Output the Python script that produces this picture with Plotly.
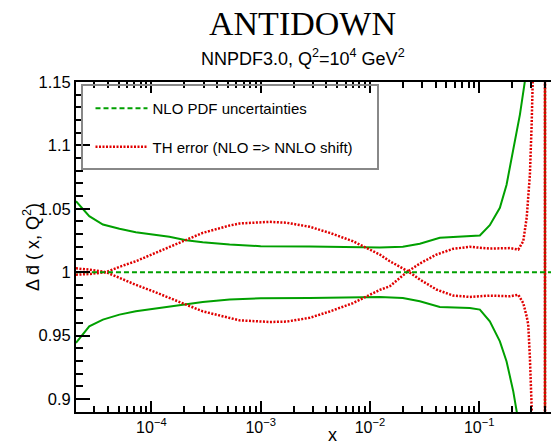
import plotly.graph_objects as go

# ---------------- data ----------------
X_GREEN = [2.04e-5, 2.7e-5, 3.6e-5, 5.1e-5, 7.2e-5, 1.03e-4, 1.46e-4, 2.08e-4,
           2.95e-4, 5.2e-4, 1.0e-3, 2.8e-3, 7.0e-3, 1.23e-2, 2.0e-2, 2.86e-2,
           4.36e-2, 6.2e-2, 8.2e-2, 0.1014, 0.125, 0.1546, 0.178, 0.205, 0.236,
           0.262, 0.30, 0.40, 0.40]
PDF_UP = [1.056, 1.0442, 1.0376, 1.0342, 1.0315, 1.0297, 1.0279, 1.0252,
          1.0236, 1.0218, 1.0205, 1.0202, 1.0198, 1.0194, 1.0200, 1.0224,
          1.0271, 1.0279, 1.0283, 1.0290, 1.0370, 1.0508, 1.069, 1.0955, 1.1245,
          1.1508, 1.30, 3.0, -1.0]
PDF_DN = [0.9442, 0.9573, 0.9626, 0.9665, 0.9691, 0.9710, 0.9731, 0.9750,
          0.9765, 0.9784, 0.9794, 0.9797, 0.9802, 0.9805, 0.9797, 0.9770,
          0.9726, 0.9723, 0.9718, 0.9705, 0.9612, 0.9454, 0.9296, 0.906, 0.875,
          0.84, 0.70, -1.0, 3.0]

X_TH = [2.04e-5, 2.7e-5, 3.85e-5, 5.1e-5, 7.2e-5, 1.03e-4, 1.46e-4, 2.08e-4,
        2.95e-4, 5.2e-4, 6.4e-4, 1.21e-3, 1.72e-3, 2.81e-3, 4.28e-3, 7.0e-3,
        9.29e-3, 1.23e-2, 1.52e-2, 2.23e-2, 2.86e-2, 4.06e-2, 5.77e-2, 8.2e-2,
        0.125, 0.191, 0.228, 0.253, 0.272, 0.281, 0.291, 0.302, 0.312, 0.33,
        0.40, 0.40]
TH_A = [0.998, 0.9985, 1.000, 1.0042, 1.0086, 1.0144, 1.0200, 1.0258,
        1.0310, 1.0368, 1.0384, 1.0397, 1.0390, 1.0358, 1.0310, 1.0244,
        1.0192, 1.0139, 1.0086, 1.0007, 0.9942, 0.9863, 0.9815, 0.9805,
        0.9815, 0.9810, 0.9822, 0.9756, 0.965, 0.9586, 0.9325, 0.906, 0.885,
        0.80, -1.0, 3.0]
TH_B = [1.003, 1.002, 1.000, 0.9955, 0.9900, 0.9850, 0.9797, 0.9744,
        0.9691, 0.9639, 0.9620, 0.9607, 0.9610, 0.9640, 0.9690, 0.9756,
        0.9810, 0.9860, 0.9889, 1.0007, 1.0068, 1.0139, 1.0184, 1.0200,
        1.0186, 1.0190, 1.0178, 1.0244, 1.043, 1.058, 1.077, 1.1166, 1.148,
        1.25, 3.0, -1.0]

X_CENTRAL = [2.04e-5, 0.454]
CENTRAL = [1.0, 1.0]

Y_TICKS = [0.9, 0.95, 1.0, 1.05, 1.1, 1.15]
Y_TICK_TEXT = ["0.9", "0.95", "1", "1.05", "1.1", "1.15"]
X_MAJOR = [1e-4, 1e-3, 1e-2, 1e-1]
X_MAJOR_TEXT = ["10<sup>\u22124</sup>", "10<sup>\u22123</sup>",
                "10<sup>\u22122</sup>", "10<sup>\u22121</sup>"]
X_MINOR = [m * 10.0 ** e for e in range(-5, 0) for m in range(2, 10)]

GREEN = "#00a000"
RED = "#e00000"
FONT = "Liberation Sans, Arial, sans-serif"

fig = go.Figure()

fig.add_trace(go.Scatter(x=X_GREEN, y=PDF_UP, mode="lines",
                         line=dict(color=GREEN, width=2), showlegend=False))
fig.add_trace(go.Scatter(x=X_GREEN, y=PDF_DN, mode="lines",
                         line=dict(color=GREEN, width=2), showlegend=False))
fig.add_trace(go.Scatter(x=X_TH, y=TH_A, mode="lines",
                         line=dict(color=RED, width=2.5, dash="2px,1.5px"),
                         showlegend=False))
fig.add_trace(go.Scatter(x=X_TH, y=TH_B, mode="lines",
                         line=dict(color=RED, width=2.5, dash="2px,1.5px"),
                         name="TH error (NLO => NNLO shift)", legendgroup="b",
                         legendrank=2))
fig.add_trace(go.Scatter(x=X_CENTRAL, y=CENTRAL, mode="lines",
                         line=dict(color=GREEN, width=2, dash="5px,3px"),
                         name="NLO PDF uncertainties", legendgroup="a",
                         legendrank=1))

L, T, W, H = 76, 82, 475, 330

fig.update_layout(
    width=551, height=446,
    margin=dict(l=L, r=0, t=T, b=446 - T - H, pad=0),
    paper_bgcolor="white", plot_bgcolor="white",
    font=dict(family=FONT, size=15, color="black"),
    showlegend=True,
    legend=dict(x=(100 - L) / W - 0.02, y=1 - (92 - T) / H, xanchor="left", yanchor="top",
                bgcolor="rgba(0,0,0,0)", borderwidth=0,
                font=dict(family=FONT, size=15, color="black"),
                traceorder="grouped", tracegroupgap=16, itemwidth=52),
    xaxis=dict(type="log", range=[-4.690, -0.343],
               tickvals=X_MAJOR, ticktext=X_MAJOR_TEXT,
               showgrid=False, zeroline=False,
               showline=True, linecolor="black", linewidth=2, mirror="ticks",
               ticks="inside", ticklen=11, tickwidth=2, tickcolor="black",
               minor=dict(ticks="inside", ticklen=6, tickvals=X_MINOR,
                          tickcolor="black", tickwidth=1.6, showgrid=False),
               tickfont=dict(family=FONT, size=16)),
    yaxis=dict(range=[0.8897, 1.15], tickvals=Y_TICKS, ticktext=Y_TICK_TEXT,
               showgrid=False, zeroline=False,
               showline=True, linecolor="black", linewidth=2,
               ticks="inside", ticklen=14, tickwidth=2, tickcolor="black",
               minor=dict(ticks="inside", ticklen=7, dtick=0.01,
                          tickcolor="black", tickwidth=1.6, showgrid=False),
               tickfont=dict(family=FONT, size=16.5)),
)

# legend frame
fig.add_shape(type="rect", xref="paper", yref="paper",
              x0=(82 - L) / W, x1=(378 - L) / W,
              y0=1 - (169 - T) / H, y1=1 - (85 - T) / H,
              line=dict(color="#888888", width=2), fillcolor="rgba(0,0,0,0)")

# titles
fig.add_annotation(text="ANTIDOWN", xref="paper", yref="paper",
                   x=(302 - L) / W, y=1 + (T - 23) / H, xanchor="center", yanchor="middle",
                   showarrow=False,
                   font=dict(family="Liberation Serif, Times New Roman, serif", size=34))
fig.add_annotation(text="NNPDF3.0, Q<sup>2</sup>=10<sup>4</sup> GeV<sup>2</sup>",
                   xref="paper", yref="paper",
                   x=(303 - L) / W, y=1 + (T - 58) / H, xanchor="center", yanchor="middle",
                   showarrow=False, font=dict(family=FONT, size=18))
fig.add_annotation(text="\u0394 d\u0304 ( x, Q<sup>2</sup>)", xref="paper", yref="paper",
                   x=(31 - L) / W, y=0.5, xanchor="center", yanchor="middle",
                   textangle=-90, showarrow=False, font=dict(family=FONT, size=18))
fig.add_annotation(text="x", xref="paper", yref="paper",
                   x=(332 - L) / W, y=-(435 - T - H) / H, xanchor="center", yanchor="middle",
                   showarrow=False, font=dict(family=FONT, size=18))

fig.write_html("out.html")
